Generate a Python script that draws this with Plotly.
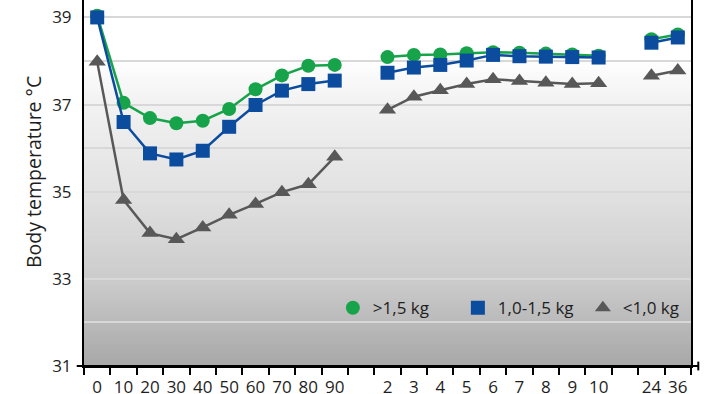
import plotly.graph_objects as go

# ---- data ----
labels_min = ["0", "10", "20", "30", "40", "50", "60", "70", "80", "90"]
labels_hr = ["2", "3", "4", "5", "6", "7", "8", "9", "10"]
labels_late = ["24", "36"]

green_min = [39.04, 37.04, 36.69, 36.57, 36.63, 36.90, 37.35, 37.67, 37.89, 37.91]
green_hr = [38.09, 38.14, 38.15, 38.18, 38.20, 38.19, 38.17, 38.15, 38.12]
green_late = [38.50, 38.61]

blue_min = [39.00, 36.60, 35.88, 35.74, 35.94, 36.49, 36.99, 37.32, 37.47, 37.55]
blue_hr = [37.73, 37.85, 37.91, 38.01, 38.14, 38.11, 38.10, 38.09, 38.08]
blue_late = [38.42, 38.54]

gray_min = [37.98, 34.81, 34.05, 33.91, 34.18, 34.47, 34.72, 34.99, 35.17, 35.80]
gray_hr = [36.88, 37.18, 37.33, 37.47, 37.58, 37.54, 37.50, 37.47, 37.49]
gray_late = [37.66, 37.78]

series_names = [">1,5 kg", "1,0-1,5 kg", "<1,0 kg"]
y_title = "Body temperature °C"

# ---- build category layout (gaps between segments) ----
tick_labels = labels_min + [""] + labels_hr + [""] + labels_late
positions = list(range(len(tick_labels)))


def assemble(a, b, c):
    return list(a) + [None] + list(b) + [None] + list(c)


green = assemble(green_min, green_hr, green_late)
blue = assemble(blue_min, blue_hr, blue_late)
gray = assemble(gray_min, gray_hr, gray_late)

GREEN = "#17a34a"
BLUE = "#0b4c9f"
GRAY = "#585858"
FONT = "Open Sans"

fig = go.Figure()

styles = {
    "gray": dict(y=gray, color=GRAY, symbol="triangle-up", size=15, name=series_names[2]),
    "green": dict(y=green, color=GREEN, symbol="circle", size=14, name=series_names[0]),
    "blue": dict(y=blue, color=BLUE, symbol="square", size=14, name=series_names[1]),
}

for key in ["gray", "green", "blue"]:
    s = styles[key]
    fig.add_trace(go.Scatter(
        x=positions, y=s["y"], mode="lines+markers", connectgaps=False,
        line=dict(color=s["color"], width=2.5),
        marker=dict(symbol=s["symbol"], size=s["size"], color=s["color"]),
        showlegend=False, name=s["name"], hoverinfo="skip"))

for key in ["green", "blue", "gray"]:
    s = styles[key]
    fig.add_trace(go.Scatter(
        x=[None], y=[None], mode="markers", name=s["name"],
        marker=dict(symbol=s["symbol"], size=14, color=s["color"]),
        showlegend=True))

# ---- gradient background ----
stops = [(0.0, 255), (0.16, 255), (0.27, 243), (0.52, 226), (0.77, 203), (1.0, 168)]


def grey_at(t):
    for (t0, c0), (t1, c1) in zip(stops[:-1], stops[1:]):
        if t0 <= t <= t1:
            f = (t - t0) / (t1 - t0) if t1 > t0 else 0
            return c0 + (c1 - c0) * f
    return stops[-1][1]


shapes = []
nb = 120
for i in range(nb):
    top = 1 - i / nb
    bot = 1 - (i + 1) / nb
    t = (i + 0.5) / nb
    g = int(round(grey_at(t)))
    shapes.append(dict(type="rect", xref="x domain", yref="y domain",
                       x0=0, x1=1, y0=bot, y1=top + 0.002, layer="below",
                       line=dict(width=0), fillcolor=f"rgb({g},{g},{g})"))

# x axis line extension and end tick
shapes.append(dict(type="line", xref="x domain", yref="y domain",
                   x0=-0.012, x1=1.012, y0=0, y1=0, line=dict(color="black", width=2)))
shapes.append(dict(type="line", xref="x domain", yref="paper",
                   x0=1.012, x1=1.012, y0=-0.012, y1=0.012, line=dict(color="black", width=2)))

fig.update_layout(
    width=704, height=394,
    margin=dict(l=84, r=13, t=0, b=28, pad=0, autoexpand=False),
    paper_bgcolor="white", plot_bgcolor="white",
    font=dict(family=FONT, size=17, color="#1e1e1e"),
    shapes=shapes,
    showlegend=True,
    legend=dict(orientation="h", x=0.41, y=0.158, xanchor="left", yanchor="middle",
                bgcolor="rgba(0,0,0,0)", font=dict(size=17, family=FONT),
                itemwidth=30, entrywidth=80, entrywidthmode="pixels", tracegroupgap=0),
    annotations=[dict(text=y_title, xref="paper", yref="paper",
                      x=(33 - 84) / 607, y=(366 - 172) / 366,
                      xanchor="center", yanchor="middle", textangle=-90, showarrow=False,
                      font=dict(size=19.5, family=FONT, color="#1e1e1e"))],
)

fig.update_xaxes(
    range=[-0.5, len(tick_labels) - 0.5], automargin=False,
    tickmode="array", tickvals=positions, ticktext=tick_labels,
    ticks="", showgrid=False, zeroline=False,
    showline=True, linecolor="black", linewidth=2,
    ticklabelstandoff=5,
    minor=dict(tickmode="array", tickvals=[p - 0.5 for p in positions] + [positions[-1] + 0.5],
               ticks="outside", ticklen=7, tickwidth=2, tickcolor="black", showgrid=False),
    tickfont=dict(size=17, family=FONT),
)

fig.update_yaxes(
    range=[31, 39.4], tick0=31, dtick=2, tickmode="linear", automargin=False,
    showgrid=True, gridcolor="#d8d8d8", gridwidth=2,
    minor=dict(tick0=31, dtick=1, showgrid=True, gridcolor="#d8d8d8", gridwidth=2, ticks=""),
    zeroline=False, showline=True, linecolor="black", linewidth=2, mirror=True,
    ticks="", ticklabelstandoff=7,
    tickfont=dict(size=17, family=FONT),
)

fig.write_html(
    "out.html",
    config={"displayModeBar": False, "staticPlot": True},
    post_script="document.body.style.margin='0';document.body.style.overflow='hidden';",
)
